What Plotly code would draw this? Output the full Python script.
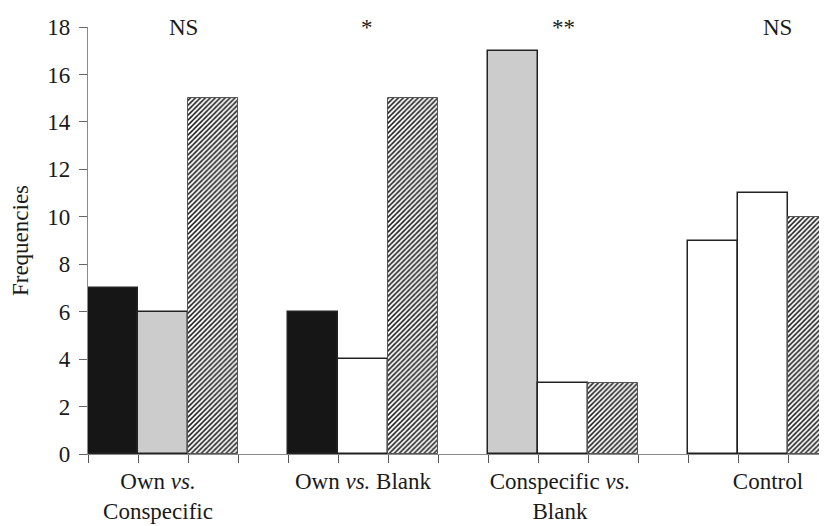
import plotly.graph_objects as go

# ---- data ----
categories = ["Own <i>vs.</i><br>Conspecific", "Own <i>vs.</i> Blank",
              "Conspecific <i>vs.</i><br>Blank", "Control"]
first_choice = [7, 6, 17, 9]      # first stimulus of each test
second_choice = [6, 4, 3, 11]     # second stimulus of each test
no_choice = [15, 15, 3, 10]       # no choice (hatched)
significance = ["NS", "*", "**", "NS"]
y_ticks = [0, 2, 4, 6, 8, 10, 12, 14, 16, 18]

# stimulus colours: Own = black, Conspecific = grey, Blank = white
first_colors = ["#161616", "#161616", "#cccccc", "#ffffff"]
second_colors = ["#cccccc", "#ffffff", "#ffffff", "#ffffff"]

FONT = "Liberation Serif"
TXT = "#1a1a1a"

n = len(categories)
slot = 4  # 3 bars + 1 gap per group
x1 = [g * slot + 0 for g in range(n)]
x2 = [g * slot + 1 for g in range(n)]
x3 = [g * slot + 2 for g in range(n)]

fig = go.Figure()
fig.add_trace(go.Bar(x=x1, y=first_choice, width=1,
                     marker=dict(color=first_colors,
                                 line=dict(color="#222222", width=1.5)),
                     showlegend=False))
fig.add_trace(go.Bar(x=x2, y=second_choice, width=1,
                     marker=dict(color=second_colors,
                                 line=dict(color="#222222", width=1.5)),
                     showlegend=False))
fig.add_trace(go.Bar(x=x3, y=no_choice, width=1,
                     marker=dict(color="#ffffff",
                                 line=dict(color="#555555", width=1),
                                 pattern=dict(shape="/", fgcolor="#1a1a1a",
                                              bgcolor="#ffffff", size=3.5,
                                              solidity=0.45, fillmode="replace")),
                     showlegend=False))

label_offsets = [-0.1, 0.0, -0.06, 0.1]
label_pos = [g * slot + 1 + label_offsets[g] for g in range(n)]
sig_offsets = [0.4, 0.08, 0.0, 0.28]
for g in range(n):
    fig.add_annotation(x=g * slot + 1 + sig_offsets[g], y=18, text=significance[g],
                       showarrow=False, xref="x", yref="y",
                       yanchor="middle", xanchor="center",
                       font=dict(family=FONT, size=23, color=TXT))

# page has an 8px body margin, so the figure is sized to fit the window
fig.update_layout(
    width=819, height=518,
    margin=dict(l=80, r=0, t=19, b=72, autoexpand=False),
    paper_bgcolor="white", plot_bgcolor="white",
    bargap=0, barmode="overlay",
    font=dict(family=FONT, size=23, color=TXT),
    xaxis=dict(
        range=[-0.5, 14.28],
        tickmode="array", tickvals=label_pos, ticktext=categories,
        ticks="", ticklen=0, automargin=False,
        showline=True, linecolor="#8a8a8a", linewidth=1.2,
        showgrid=False, zeroline=False,
        ticklabelstandoff=6,
        minor=dict(tickmode="array",
                   tickvals=[i - 0.5 for i in range(16)],
                   ticks="outside", ticklen=8, tickcolor="#555555",
                   tickwidth=1.2, showgrid=False),
        tickfont=dict(family=FONT, size=23, color=TXT),
    ),
    yaxis=dict(
        range=[0, 18], tickmode="array", tickvals=y_ticks,
        ticks="outside", ticklen=8, tickcolor="#666666", tickwidth=1.2,
        showline=True, linecolor="#8a8a8a", linewidth=1.2,
        showgrid=False, zeroline=False, automargin=False,
        ticklabelstandoff=4,
        tickfont=dict(family=FONT, size=23, color=TXT),
        title=dict(text="Frequencies", standoff=16,
                   font=dict(family=FONT, size=23, color=TXT)),
    ),
)

fig.write_html("out.html")
